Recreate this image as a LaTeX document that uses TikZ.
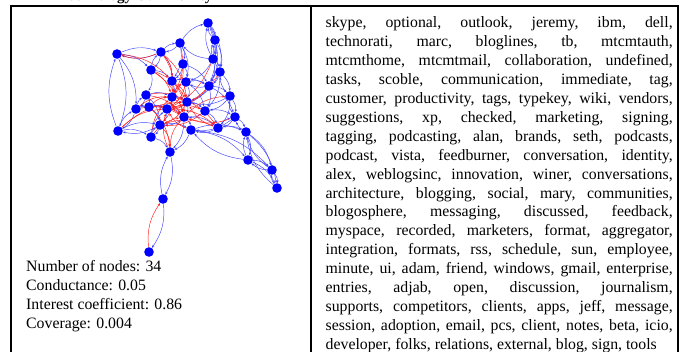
\documentclass[tikz,border=0pt]{standalone}
\usepackage{fontspec}
\setmainfont{Liberation Serif}
\usetikzlibrary{arrows.meta,backgrounds}

\begin{document}
\begin{tikzpicture}[x=1pt, y=-1pt,
  vtx/.style={circle, fill=blue, inner sep=0pt, minimum size=9.6pt},
  be/.style={blue!75, line width=0.45pt, -{Stealth[length=2.8pt,width=2.2pt]}},
  re/.style={red!90, line width=0.45pt, -{Stealth[length=2.8pt,width=2.2pt]}},
  frame/.style={line width=2pt},
  txt/.style={anchor=base west, inner sep=0pt, font=\fontsize{15.8}{18.9}\selectfont}
]
\useasboundingbox (0,0) rectangle (683,352);

% title, cut by the top of the page
\node[anchor=base west, inner sep=0pt, font=\fontsize{15}{18}\selectfont\bfseries] (title) at (59,0.4) {Technology Community};

% frames
\draw[frame] (11,360) -- (11,6) -- (678,6) -- (678,360);
\draw[frame] (311,6) -- (311,360);

% vertices
\foreach \i/\x/\y in {1/208/23, 2/215/40, 3/180/43, 4/117/54, 5/161/52, 6/213/59,
  7/183/64, 8/220/72, 9/151/70, 10/172/81, 11/186/82, 12/209/86, 13/230/96,
  14/146/95, 15/172/97, 16/187/102, 17/136/109, 18/149/107, 19/167/109,
  20/205/111, 21/235/117, 22/184/117, 23/160/125, 24/218/128, 25/191/130,
  26/118/131, 27/246/132, 28/151/137, 29/170/152, 30/248/160, 31/272/170,
  32/277/188, 33/163/199, 34/149/252}
  \node[vtx] (n\i) at (\x,\y) {};

\begin{scope}[on background layer]
% blue links
\foreach \a/\b in {1/2, 2/1, 1/6, 6/1, 1/8, 3/1, 1/12, 2/6, 6/2, 2/8, 8/2, 6/8,
  6/12, 8/12, 12/8, 8/13, 13/8, 12/13, 13/21, 21/13, 21/27, 27/21, 27/30, 30/27,
  30/31, 31/30, 31/32, 32/31, 27/31, 31/27, 27/32, 32/27, 30/32, 25/30, 30/25,
  25/31, 24/27, 21/24, 20/21, 13/20, 3/5, 5/3, 3/7, 3/10, 3/11, 6/3, 4/5, 5/4,
  4/9, 26/4, 4/26, 4/17, 9/14, 14/17, 17/14, 17/26, 26/17, 26/23, 23/26, 17/18,
  14/18, 18/23, 23/28, 28/23, 28/29, 29/33, 33/29, 33/34, 25/29, 22/25, 24/25,
  20/24, 16/20, 11/12, 12/11, 10/11, 15/16, 19/22, 10/15, 11/16, 5/9, 9/5, 5/10,
  7/10, 7/11, 12/20, 16/22, 19/23, 22/23, 15/19, 14/15, 9/10, 20/22, 11/20, 6/11,
  8/16, 12/16, 13/16, 21/25, 23/25, 22/24, 22/29, 28/19, 17/19, 24/21, 13/24,
  12/21, 7/12, 10/12, 14/23, 18/19, 26/28, 2/12, 8/20, 25/27}
  \draw[be] (n\a) to[bend left=20] (n\b);
% red links
\foreach \a/\b in {5/4, 5/10, 5/15, 9/15, 9/16, 10/19, 10/22, 11/19, 14/16, 14/22,
  15/22, 15/23, 16/23, 17/22, 18/22, 19/20, 20/23, 23/24, 15/24, 21/22, 18/29,
  28/22, 29/19, 26/16, 7/15, 3/15, 8/19, 6/19, 12/19, 34/33, 17/15, 24/16, 25/19,
  9/22, 28/15, 29/22, 4/10, 5/16, 19/24, 22/13, 16/19, 15/11, 10/16, 23/29, 26/19,
  18/15}
  \draw[re] (n\a) to[bend left=20] (n\b);
\end{scope}

% community figures
\foreach \t [count=\k from 0] in {Number of nodes: 34, Conductance: 0.05,
  Interest coefficient: 0.86, Coverage: 0.004}
  \node[txt] (st\k) at (26,{272+18.9*\k}) {\t};

% member keywords
\foreach \t [count=\k from 0] in {
  {skype, optional, outlook, jeremy, ibm, dell,},
  {technorati, marc, bloglines, tb, mtcmtauth,},
  {mtcmthome, mtcmtmail, collaboration, undefined,},
  {tasks, scoble, communication, immediate, tag,},
  {customer, productivity, tags, typekey, wiki, vendors,},
  {suggestions, xp, checked, marketing, signing,},
  {tagging, podcasting, alan, brands, seth, podcasts,},
  {podcast, vista, feedburner, conversation, identity,},
  {alex, weblogsinc, innovation, winer, conversations,},
  {architecture, blogging, social, mary, communities,},
  {blogosphere, messaging, discussed, feedback,},
  {myspace, recorded, marketers, format, aggregator,},
  {integration, formats, rss, schedule, sun, employee,},
  {minute, ui, adam, friend, windows, gmail, enterprise,},
  {entries, adjab, open, discussion, journalism,},
  {supports, competitors, clients, apps, jeff, message,},
  {session, adoption, email, pcs, client, notes, beta, icio,}}
  \node[txt] (kw\k) at (325.5,{28+18.9*\k}) {\makebox[347pt][s]{\t}};
\node[txt] (kw17) at (325.5,{28+18.9*17}) {developer, folks, relations, external, blog, sign, tools};
\end{tikzpicture}
\end{document}
